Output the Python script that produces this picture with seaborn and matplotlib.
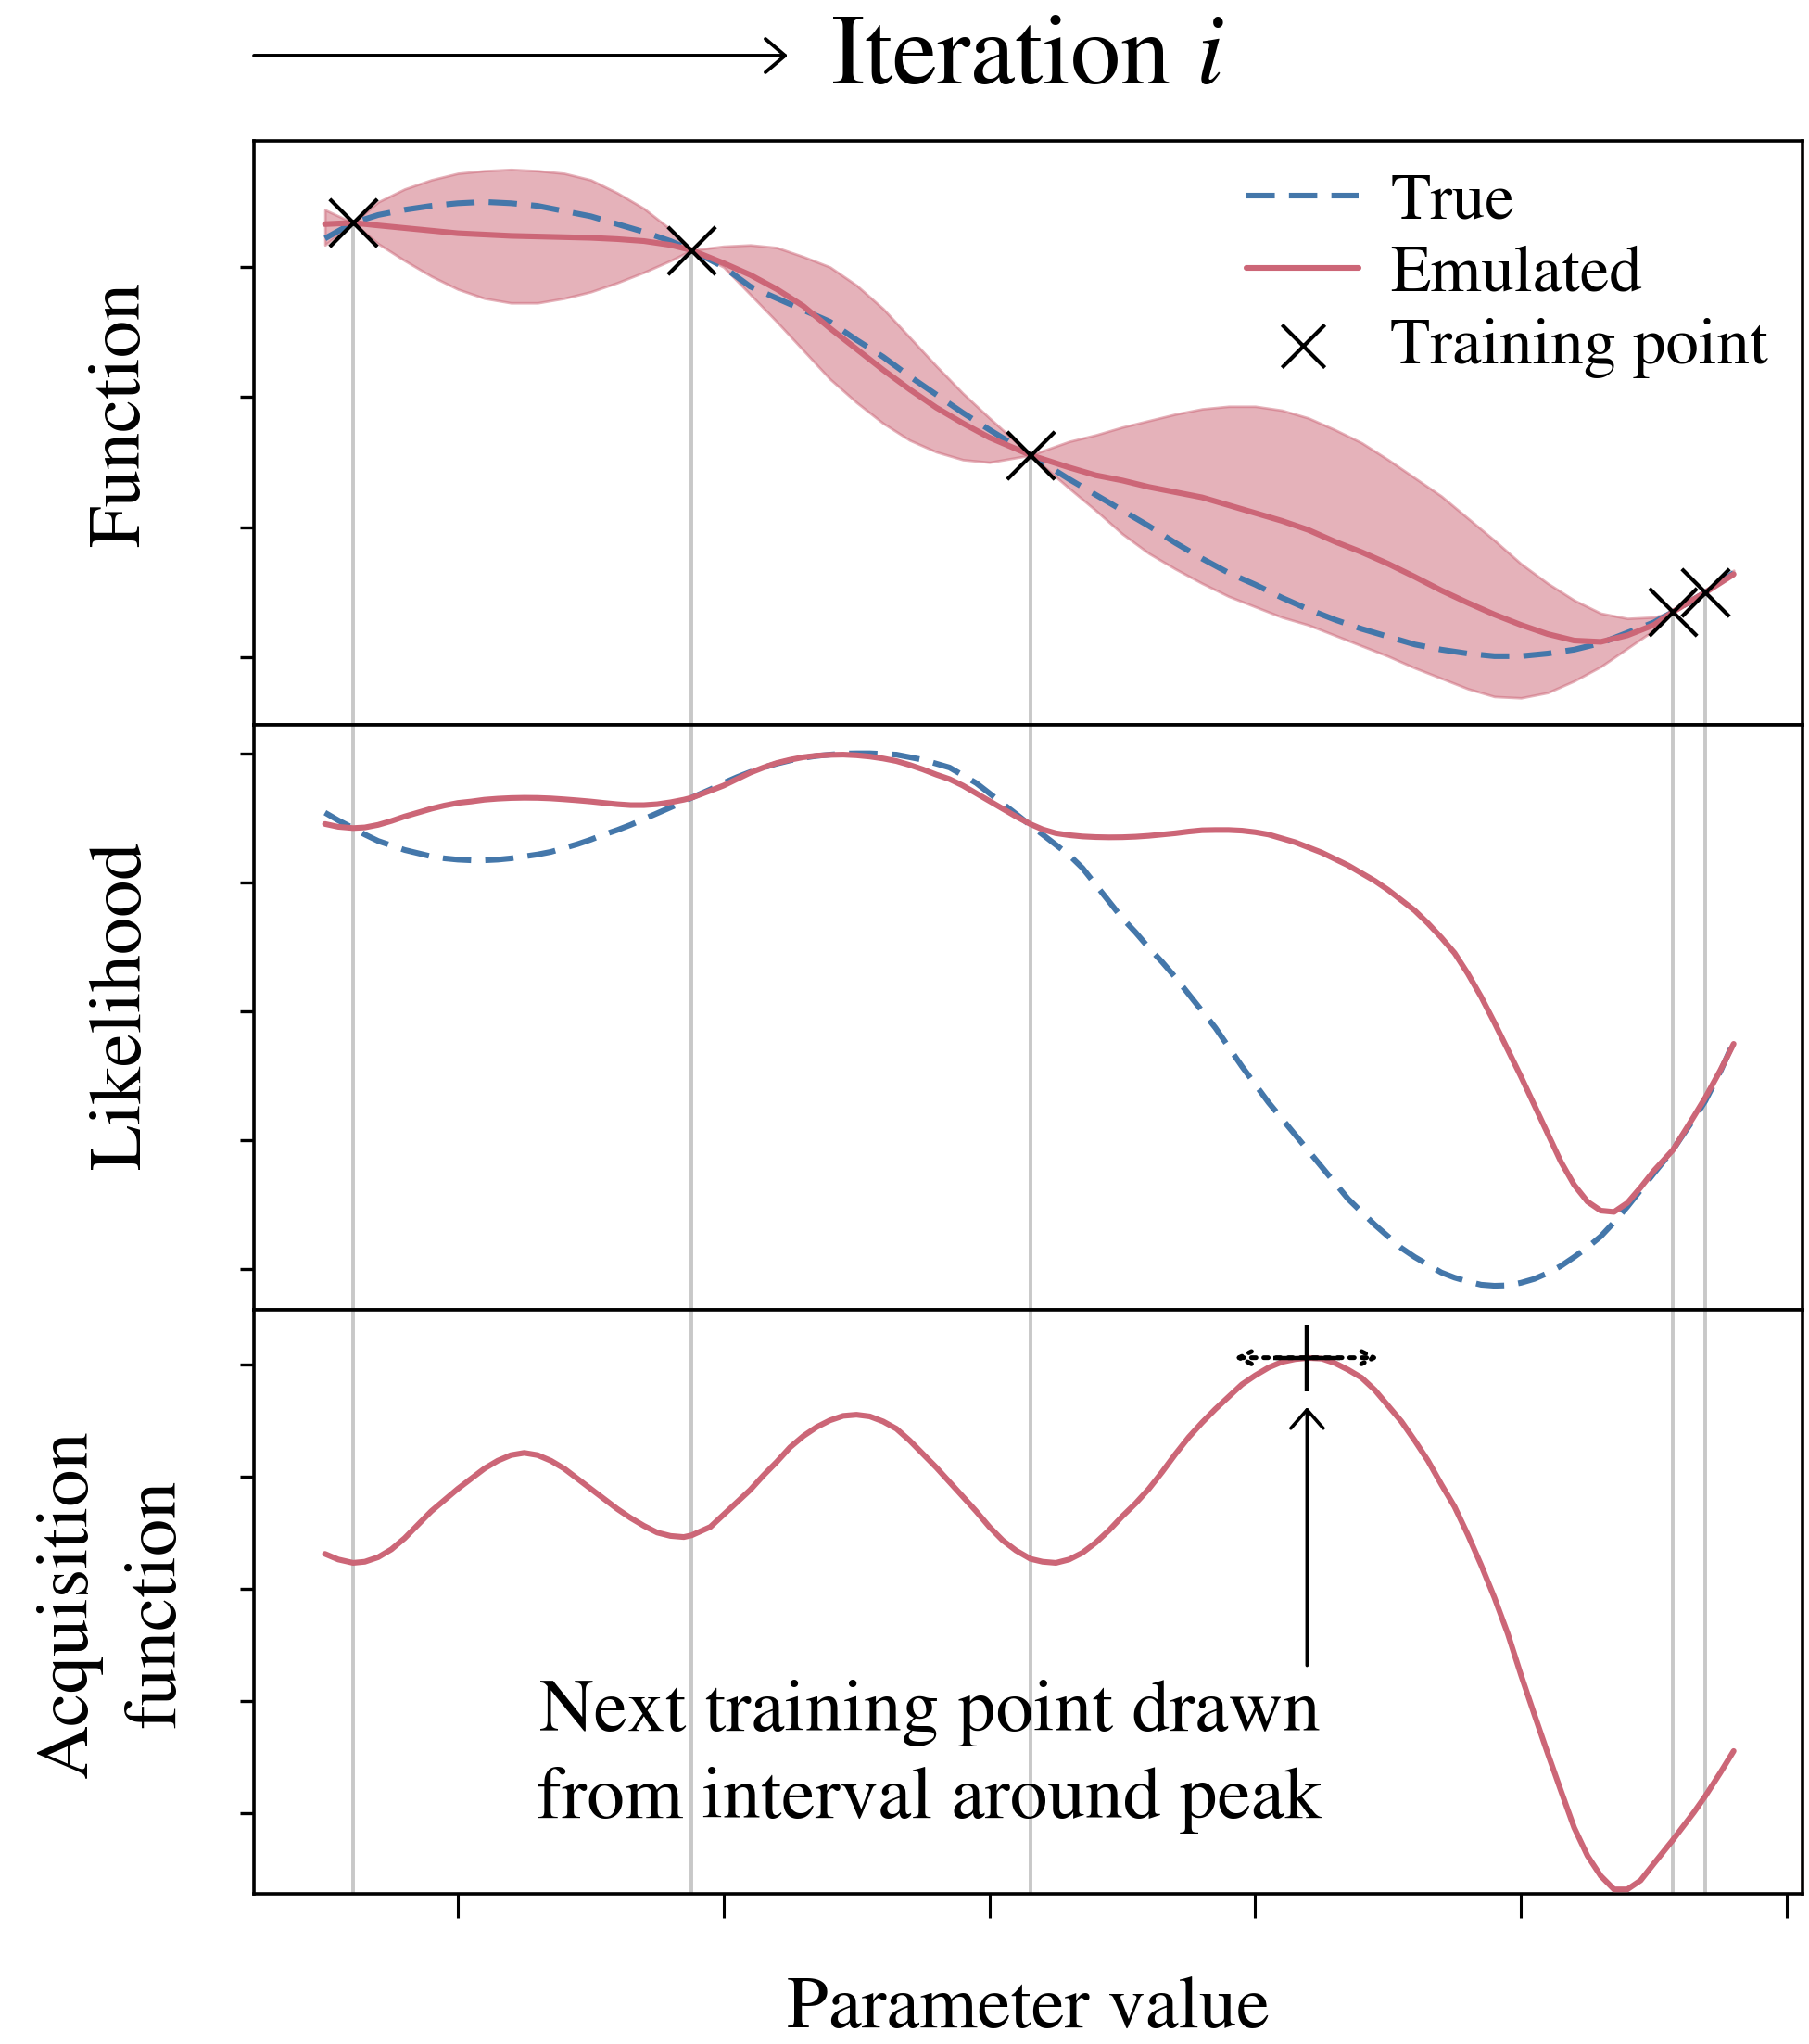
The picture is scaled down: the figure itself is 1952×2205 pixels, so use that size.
import pandas as pd
import seaborn as sns
import matplotlib.pyplot as plt

# valori (asse x: parametro, tick a 1..6)
# pannello superiore
x_grid = [0.5, 0.606, 0.7, 0.8, 0.9, 1.0, 1.1, 1.2, 1.3, 1.4, 1.5, 1.6, 1.7, 1.8,
          1.879,
          2.0, 2.1, 2.2, 2.3, 2.4, 2.5, 2.6, 2.7, 2.8, 2.9, 3.0,
          3.155,
          3.3,
          3.4, 3.5, 3.6, 3.7, 3.8, 3.9, 4.0, 4.1, 4.2, 4.3, 4.4, 4.5, 4.6, 4.7,
          4.8, 4.9, 5.0, 5.1, 5.2, 5.3, 5.4, 5.5,
          5.571, 5.693, 5.8]

func_true = [3.22, 3.34, 3.40, 3.44, 3.47, 3.49, 3.50, 3.49, 3.47, 3.43, 3.39, 3.33, 3.27, 3.20,
             3.13,
             3.00, 2.85, 2.76, 2.67, 2.58, 2.44, 2.31, 2.16, 2.02, 1.88, 1.75,
             1.555,
             1.37,
             1.25, 1.13, 1.01, 0.88, 0.76, 0.65, 0.56, 0.46, 0.37, 0.29, 0.22, 0.16, 0.10, 0.06,
             0.03, 0.01, 0.01, 0.03, 0.06, 0.11, 0.19, 0.27,
             0.35, 0.50, 0.65]
func_emu = [3.33, 3.34, 3.32, 3.30, 3.28, 3.26, 3.25, 3.24, 3.235, 3.23, 3.225, 3.215, 3.20, 3.17,
            3.13,
            3.03, 2.94, 2.83, 2.70, 2.53, 2.37, 2.21, 2.06, 1.92, 1.80, 1.69,
            1.555,
            1.46,
            1.40, 1.36, 1.31, 1.27, 1.23, 1.17, 1.11, 1.05, 0.98, 0.89, 0.81, 0.72, 0.62, 0.515,
            0.42, 0.33, 0.25, 0.18, 0.13, 0.12, 0.17, 0.25,
            0.35, 0.50, 0.64]
func_upper = [3.44, 3.34, 3.50, 3.60, 3.67, 3.72, 3.74, 3.75, 3.74, 3.72, 3.67, 3.57, 3.45, 3.29,
              3.13,
              3.16, 3.17, 3.15, 3.08, 3.00, 2.86, 2.68, 2.46, 2.24, 2.03, 1.84,
              1.555,
              1.66,
              1.71, 1.77, 1.82, 1.87, 1.91, 1.93, 1.93, 1.90, 1.84, 1.75, 1.65, 1.52, 1.38, 1.24,
              1.07, 0.90, 0.72, 0.57, 0.44, 0.34, 0.30, 0.31,
              0.35, 0.51, 0.67]
func_lower = [3.17, 3.34, 3.18, 3.05, 2.93, 2.83, 2.76, 2.725, 2.725, 2.76, 2.81, 2.88, 2.96, 3.05,
              3.13,
              3.00, 2.79, 2.58, 2.36, 2.14, 1.96, 1.80, 1.67, 1.58, 1.52, 1.50,
              1.555,
              1.30,
              1.13, 0.95, 0.80, 0.68, 0.57, 0.47, 0.39, 0.31, 0.25, 0.17, 0.09, 0.01, -0.08, -0.16,
              -0.24, -0.30, -0.31, -0.27, -0.18, -0.07, 0.07, 0.21,
              0.35, 0.49, 0.63]

# pannelli centrale e inferiore (griglia piu' fitta)
x_fine = [0.50, 0.55, 0.606, 0.65, 0.70, 0.75, 0.80, 0.85, 0.90, 0.95,
          1.00, 1.05, 1.10, 1.15, 1.20, 1.25, 1.30, 1.35, 1.40, 1.45,
          1.50, 1.55, 1.60, 1.65, 1.70, 1.75, 1.80, 1.85, 1.879, 1.95,
          2.00, 2.05, 2.10, 2.15, 2.20, 2.25, 2.30, 2.35, 2.40, 2.45,
          2.50, 2.55, 2.60, 2.65, 2.70, 2.75, 2.80, 2.85, 2.90, 2.95,
          3.00, 3.05, 3.10, 3.155, 3.20, 3.25, 3.30, 3.35, 3.40, 3.45,
          3.50, 3.55, 3.60, 3.65, 3.70, 3.75, 3.80, 3.85, 3.90, 3.95,
          4.00, 4.05, 4.10, 4.15, 4.20, 4.25, 4.30, 4.35, 4.40, 4.45,
          4.50, 4.55, 4.60, 4.65, 4.70, 4.75, 4.80, 4.85, 4.90, 4.95,
          5.00, 5.05, 5.10, 5.15, 5.20, 5.25, 5.30, 5.35, 5.40, 5.45,
          5.50, 5.571, 5.60, 5.65, 5.693, 5.75, 5.80]

like_true = [3.54, 3.48, 3.42, 3.37, 3.32, 3.285, 3.25, 3.225, 3.20, 3.185,
             3.175, 3.17, 3.17, 3.175, 3.185, 3.20, 3.215, 3.235, 3.265, 3.295,
             3.33, 3.37, 3.405, 3.445, 3.49, 3.535, 3.58, 3.625, 3.655, 3.72,
             3.77, 3.815, 3.855, 3.89, 3.92, 3.945, 3.965, 3.98, 3.99, 3.998,
             4.00, 4.00, 3.995, 3.99, 3.97, 3.95, 3.92, 3.89, 3.83, 3.77,
             3.69, 3.61, 3.53, 3.44, 3.37, 3.29, 3.21, 3.11, 2.98, 2.85,
             2.72, 2.61, 2.49, 2.38, 2.26, 2.13, 2.00, 1.87, 1.72, 1.57,
             1.43, 1.29, 1.165, 1.04, 0.915, 0.79, 0.665, 0.54, 0.44, 0.34,
             0.25, 0.16, 0.09, 0.03, -0.03, -0.07, -0.10, -0.125, -0.133, -0.13,
             -0.11, -0.08, -0.035, 0.02, 0.09, 0.165, 0.25, 0.36, 0.48, 0.61,
             0.74, 0.92, 1.01, 1.16, 1.30, 1.53, 1.76]
like_emu = [3.452, 3.43, 3.42, 3.425, 3.445, 3.475, 3.51, 3.54, 3.57, 3.595,
            3.615, 3.626, 3.64, 3.648, 3.653, 3.655, 3.654, 3.65, 3.643, 3.635,
            3.626, 3.615, 3.605, 3.598, 3.598, 3.605, 3.62, 3.64, 3.655, 3.71,
            3.75, 3.80, 3.85, 3.89, 3.925, 3.95, 3.97, 3.982, 3.988, 3.99,
            3.985, 3.975, 3.96, 3.94, 3.91, 3.875, 3.835, 3.80, 3.75, 3.69,
            3.63, 3.57, 3.51, 3.45, 3.41, 3.38, 3.365, 3.355, 3.35, 3.348,
            3.349, 3.353, 3.36, 3.37, 3.38, 3.393, 3.403, 3.405, 3.405, 3.40,
            3.388, 3.37, 3.34, 3.31, 3.27, 3.23, 3.18, 3.13, 3.07, 3.01,
            2.94, 2.86, 2.78, 2.68, 2.57, 2.45, 2.29, 2.11, 1.91, 1.70,
            1.49, 1.27, 1.05, 0.83, 0.65, 0.52, 0.45, 0.44, 0.51, 0.63,
            0.76, 0.92, 1.015, 1.18, 1.326, 1.54, 1.745]

acq_emu = [2.31, 2.26, 2.23, 2.24, 2.28, 2.35, 2.45, 2.57, 2.69, 2.79,
           2.89, 2.98, 3.07, 3.14, 3.19, 3.21, 3.19, 3.14, 3.07, 2.98,
           2.89, 2.80, 2.71, 2.63, 2.56, 2.50, 2.47, 2.46, 2.475, 2.55,
           2.66, 2.77, 2.88, 3.01, 3.13, 3.26, 3.36, 3.44, 3.50, 3.54,
           3.55, 3.535, 3.49, 3.425, 3.32, 3.20, 3.08, 2.95, 2.82, 2.69,
           2.55, 2.43, 2.34, 2.265, 2.24, 2.23, 2.26, 2.32, 2.41, 2.52,
           2.645, 2.76, 2.89, 3.04, 3.20, 3.35, 3.48, 3.60, 3.71, 3.82,
           3.90, 3.97, 4.02, 4.045, 4.056, 4.05, 4.01, 3.95, 3.88, 3.77,
           3.63, 3.49, 3.32, 3.14, 2.93, 2.73, 2.48, 2.21, 1.92, 1.60,
           1.23, 0.88, 0.535, 0.20, -0.13, -0.38, -0.56, -0.68, -0.68, -0.60,
           -0.45, -0.24, -0.15, 0.005, 0.15, 0.36, 0.553]

train_x = [0.606, 1.879, 3.155, 5.571, 5.693]
train_f = [3.34, 3.13, 1.555, 0.35, 0.50]

next_x = 4.195
next_acq = 4.058
interval = [3.92, 4.466]

RED = '#CC6677'
BLUE = '#4477AA'
GREY = '#c8c8c8'
FS = 29
LW = 2.2
DASH = (0, (5, 2.5))

sns.set_theme(style="ticks")
plt.rcParams['font.family'] = ['STIXGeneral', 'DejaVu Serif']
plt.rcParams['mathtext.fontset'] = 'stix'
plt.rcParams['axes.linewidth'] = 1.3
plt.rcParams['axes.edgecolor'] = 'black'
for k in ['text.color', 'axes.labelcolor', 'xtick.color', 'ytick.color']:
    plt.rcParams[k] = 'black'

fig, axes = plt.subplots(3, 1, figsize=(9.76, 11.025), dpi=200, sharex=True)
fig.subplots_adjust(left=0.1404, right=0.9964, top=0.9311, bottom=0.0735, hspace=0)
ax_f, ax_l, ax_a = axes

# 1. Pannello funzione
ax_f.vlines(train_x, -1, train_f, color=GREY, lw=1.4, zorder=1)
ax_f.fill_between(x_grid, func_lower, func_upper, color=RED, alpha=0.5, lw=1, zorder=2)
sns.lineplot(x=x_grid, y=func_true, ax=ax_f, color=BLUE, lw=LW,
             linestyle=DASH, label='True', zorder=3, sort=False)
sns.lineplot(x=x_grid, y=func_emu, ax=ax_f, color=RED, lw=LW,
             label='Emulated', zorder=4, sort=False)
sns.scatterplot(x=train_x, y=train_f, ax=ax_f, marker='x', s=18.5 ** 2, color='black',
                linewidth=1.5, label='Training point', zorder=5)
ax_f.set_ylim(-0.52, 3.97)
ax_f.set_yticks([0, 1, 2, 3])
ax_f.legend(loc='upper right', bbox_to_anchor=(0.978, 0.946), frameon=False, fontsize=25.5,
            handlelength=1.7, handletextpad=0.49, labelspacing=0.175, borderpad=0,
            borderaxespad=0, markerscale=0.9)

# 2. Pannello likelihood
for xv in train_x:
    ax_l.axvline(xv, color=GREY, lw=1.4, zorder=1)
sns.lineplot(x=x_fine, y=like_true, ax=ax_l, color=BLUE, lw=LW,
             linestyle=DASH, zorder=3, sort=False)
sns.lineplot(x=x_fine, y=like_emu, ax=ax_l, color=RED, lw=LW, zorder=4, sort=False)
ax_l.set_ylim(-0.317, 4.219)
ax_l.set_yticks([0, 1, 2, 3, 4])

# 3. Pannello acquisition
for xv in train_x:
    ax_a.axvline(xv, color=GREY, lw=1.4, zorder=1)
sns.lineplot(x=x_fine, y=acq_emu, ax=ax_a, color=RED, lw=LW, zorder=4, sort=False)
sns.scatterplot(x=[next_x], y=[next_acq], ax=ax_a, marker='+', s=26 ** 2, color='black',
                linewidth=1.6, zorder=6)
ax_a.annotate('', xy=(interval[1], next_acq), xytext=(interval[0], next_acq),
              arrowprops=dict(arrowstyle='<->', linestyle=':', lw=1.8, color='black',
                              shrinkA=0, shrinkB=0, mutation_scale=12), zorder=5)
ax_a.annotate('', xy=(next_x, 3.617), xytext=(next_x, 1.316),
              arrowprops=dict(arrowstyle='->, head_length=0.4, head_width=0.35', lw=1.3,
                              color='black', shrinkA=0, shrinkB=0, mutation_scale=18))
ax_a.text(2.775, 1.19, 'Next training point drawn\nfrom interval around peak',
          ha='center', va='top', fontsize=29.3, linespacing=1.4)
ax_a.set_ylim(-0.719, 4.488)
ax_a.set_yticks([0, 1, 2, 3, 4])

ax_a.set_xlim(0.233, 6.059)
ax_a.set_xticks([1, 2, 3, 4, 5, 6])
ax_a.set_xticklabels([])

for ax in axes:
    ax.tick_params(axis='y', direction='out', length=5.4, width=1.2, labelleft=False)
    ax.set_xlabel('')
    for s in ax.spines.values():
        s.set_visible(True)
        s.set_linewidth(1.3)
for ax in (ax_f, ax_l):
    ax.tick_params(axis='x', length=0, labelbottom=False)
ax_a.tick_params(axis='x', direction='out', length=9.4, width=1.1)

ax_f.set_ylabel('Function', fontsize=FS)
ax_f.yaxis.set_label_coords(-0.0637, 0.532)
ax_l.set_ylabel('Likelihood', fontsize=FS)
ax_l.yaxis.set_label_coords(-0.0637, 0.521)
ax_a.set_ylabel('Acquisition\nfunction', fontsize=FS, linespacing=1.4)
ax_a.yaxis.set_label_coords(-0.0413, 0.497)
ax_a.set_xlabel('Parameter value', fontsize=FS)
ax_a.xaxis.set_label_coords(0.5, -0.142)

# titolo con freccia
ax_f.annotate('', xy=(0.4355, 0.9728), xytext=(0.1404, 0.9728), xycoords='figure fraction',
              textcoords='figure fraction', annotation_clip=False,
              arrowprops=dict(arrowstyle='->, head_length=0.4, head_width=0.34', lw=1.4,
                              color='black', shrinkA=0, shrinkB=0, mutation_scale=19))
fig.text(0.459, 1 - 90 / 2205, 'Iteration $i$', fontsize=39, ha='left', va='baseline')

plt.savefig('out.png', dpi=200)
